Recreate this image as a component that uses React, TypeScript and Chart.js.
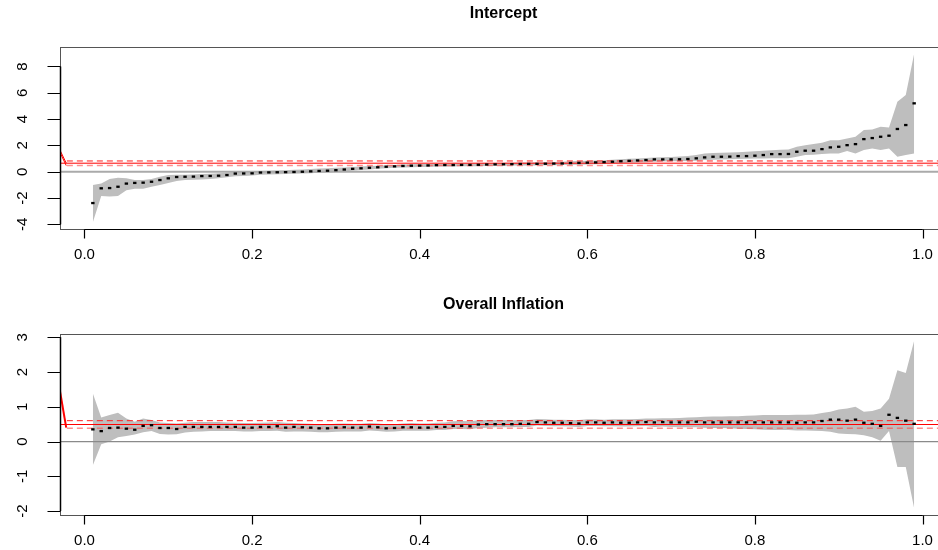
import React, { useEffect, useRef } from "react";
import { Chart, registerables } from "chart.js";

Chart.register(...registerables);

// ---------------- data ----------------
const taus = [
  0.01, 0.02, 0.03, 0.04, 0.05, 0.06, 0.07, 0.08, 0.09, 0.1,
  0.11, 0.12, 0.13, 0.14, 0.15, 0.16, 0.17, 0.18, 0.19, 0.2,
  0.21, 0.22, 0.23, 0.24, 0.25, 0.26, 0.27, 0.28, 0.29, 0.3,
  0.31, 0.32, 0.33, 0.34, 0.35, 0.36, 0.37, 0.38, 0.39, 0.4,
  0.41, 0.42, 0.43, 0.44, 0.45, 0.46, 0.47, 0.48, 0.49, 0.5,
  0.51, 0.52, 0.53, 0.54, 0.55, 0.56, 0.57, 0.58, 0.59, 0.6,
  0.61, 0.62, 0.63, 0.64, 0.65, 0.66, 0.67, 0.68, 0.69, 0.7,
  0.71, 0.72, 0.73, 0.74, 0.75, 0.76, 0.77, 0.78, 0.79, 0.8,
  0.81, 0.82, 0.83, 0.84, 0.85, 0.86, 0.87, 0.88, 0.89, 0.9,
  0.91, 0.92, 0.93, 0.94, 0.95, 0.96, 0.97, 0.98, 0.99,
];

const interceptEst = [
  -2.38, -1.26, -1.24, -1.14, -0.9, -0.85, -0.83, -0.76, -0.63, -0.5,
  -0.4, -0.38, -0.37, -0.33, -0.32, -0.3, -0.25, -0.14, -0.13, -0.12,
  -0.06, -0.05, -0.04, -0.03, -0.02, 0.0, 0.03, 0.06, 0.08, 0.12,
  0.17, 0.22, 0.26, 0.3, 0.34, 0.38, 0.41, 0.44, 0.46, 0.47,
  0.48, 0.5, 0.51, 0.51, 0.52, 0.52, 0.53, 0.55, 0.56, 0.57,
  0.58, 0.59, 0.6, 0.6, 0.61, 0.62, 0.63, 0.66, 0.67, 0.69,
  0.71, 0.73, 0.76, 0.8, 0.83, 0.86, 0.89, 0.94, 0.94, 0.94,
  0.95, 0.97, 1.02, 1.09, 1.14, 1.14, 1.15, 1.19, 1.19, 1.22,
  1.27, 1.34, 1.34, 1.35, 1.52, 1.6, 1.6, 1.72, 1.85, 1.9,
  2.02, 2.1, 2.48, 2.56, 2.66, 2.74, 3.25, 3.55, 5.2,
];
const interceptLo = [
  -3.84, -1.85, -1.88, -1.85, -1.4, -1.3, -1.3, -1.15, -1.0, -0.85,
  -0.7, -0.62, -0.6, -0.58, -0.55, -0.5, -0.42, -0.35, -0.32, -0.28,
  -0.22, -0.2, -0.19, -0.18, -0.16, -0.14, -0.11, -0.08, -0.05, -0.02,
  0.03, 0.08, 0.13, 0.18, 0.22, 0.26, 0.3, 0.33, 0.35, 0.36,
  0.37, 0.39, 0.4, 0.4, 0.41, 0.41, 0.42, 0.44, 0.45, 0.46,
  0.47, 0.48, 0.48, 0.48, 0.49, 0.5, 0.51, 0.53, 0.54, 0.56,
  0.57, 0.59, 0.62, 0.65, 0.68, 0.7, 0.73, 0.76, 0.78, 0.8,
  0.8, 0.82, 0.84, 0.89, 0.92, 0.94, 0.95, 0.97, 0.98, 1.0,
  1.01, 1.02, 1.02, 1.02, 1.14, 1.27, 1.3, 1.34, 1.39, 1.39,
  1.57, 1.39, 1.65, 1.77, 1.65, 1.77, 1.14, 1.27, 1.39,
];
const interceptHi = [
  -1.0, -0.9, -0.55, -0.45, -0.5, -0.62, -0.62, -0.55, -0.38, -0.25,
  -0.22, -0.22, -0.2, -0.18, -0.15, -0.12, -0.08, -0.02, 0.0, 0.02,
  0.06, 0.08, 0.1, 0.12, 0.15, 0.18, 0.21, 0.24, 0.27, 0.3,
  0.33, 0.36, 0.4, 0.43, 0.46, 0.49, 0.52, 0.55, 0.57, 0.58,
  0.59, 0.61, 0.62, 0.62, 0.63, 0.63, 0.64, 0.66, 0.67, 0.68,
  0.69, 0.7, 0.71, 0.72, 0.73, 0.74, 0.76, 0.79, 0.81, 0.83,
  0.85, 0.88, 0.91, 0.95, 0.98, 1.01, 1.05, 1.09, 1.1, 1.12,
  1.15, 1.2, 1.27, 1.39, 1.42, 1.45, 1.47, 1.49, 1.52, 1.56,
  1.6, 1.64, 1.68, 1.7, 1.9, 2.02, 2.1, 2.2, 2.4, 2.4,
  2.53, 2.66, 3.17, 3.22, 3.42, 3.37, 5.32, 5.83, 8.97,
];
// OLS estimate, lower, upper
const interceptOls = [0.65, 0.48, 0.82];

const inflationEst = [
  0.35, 0.3, 0.39, 0.4, 0.37, 0.34, 0.45, 0.47, 0.39, 0.39,
  0.36, 0.42, 0.42, 0.42, 0.42, 0.42, 0.42, 0.42, 0.4, 0.4,
  0.42, 0.42, 0.44, 0.4, 0.42, 0.41, 0.4, 0.38, 0.38, 0.4,
  0.41, 0.4, 0.4, 0.43, 0.41, 0.38, 0.39, 0.41, 0.41, 0.4,
  0.4, 0.42, 0.42, 0.45, 0.45, 0.44, 0.49, 0.5, 0.5, 0.5,
  0.5, 0.51, 0.51, 0.56, 0.55, 0.54, 0.54, 0.53, 0.52, 0.55,
  0.55, 0.54, 0.55, 0.54, 0.54, 0.55, 0.56, 0.55, 0.56, 0.55,
  0.55, 0.55, 0.57, 0.55, 0.55, 0.55, 0.55, 0.55, 0.55, 0.55,
  0.55, 0.55, 0.55, 0.55, 0.54, 0.55, 0.55, 0.59, 0.63, 0.63,
  0.6, 0.63, 0.54, 0.51, 0.45, 0.77, 0.68, 0.6, 0.51,
];
const inflationLo = [
  -0.68, -0.08, 0.0, 0.12, 0.16, 0.2, 0.27, 0.3, 0.22, 0.2,
  0.21, 0.26, 0.28, 0.29, 0.3, 0.3, 0.3, 0.3, 0.29, 0.29,
  0.3, 0.3, 0.31, 0.28, 0.29, 0.29, 0.28, 0.27, 0.27, 0.28,
  0.29, 0.29, 0.29, 0.32, 0.3, 0.28, 0.29, 0.31, 0.31, 0.31,
  0.31, 0.33, 0.33, 0.36, 0.36, 0.35, 0.39, 0.4, 0.41, 0.41,
  0.41, 0.42, 0.42, 0.46, 0.45, 0.44, 0.44, 0.43, 0.42, 0.45,
  0.45, 0.44, 0.44, 0.43, 0.43, 0.44, 0.45, 0.42, 0.43, 0.42,
  0.41, 0.41, 0.41, 0.4, 0.39, 0.39, 0.38, 0.37, 0.36, 0.35,
  0.34, 0.33, 0.33, 0.33, 0.32, 0.32, 0.31, 0.3, 0.28, 0.23,
  0.22, 0.21, 0.18, 0.12, 0.02, 0.3, -0.73, -0.73, -1.92,
];
const inflationHi = [
  1.38, 0.69, 0.76, 0.83, 0.66, 0.57, 0.66, 0.62, 0.55, 0.53,
  0.52, 0.54, 0.56, 0.56, 0.56, 0.56, 0.55, 0.54, 0.53, 0.53,
  0.54, 0.55, 0.56, 0.54, 0.53, 0.52, 0.51, 0.5, 0.5, 0.51,
  0.52, 0.51, 0.51, 0.53, 0.52, 0.5, 0.5, 0.52, 0.53, 0.52,
  0.52, 0.54, 0.55, 0.58, 0.59, 0.58, 0.61, 0.62, 0.62, 0.62,
  0.61, 0.62, 0.62, 0.65, 0.64, 0.63, 0.63, 0.62, 0.62, 0.64,
  0.64, 0.63, 0.64, 0.64, 0.64, 0.65, 0.66, 0.66, 0.67, 0.67,
  0.68, 0.69, 0.7, 0.71, 0.72, 0.72, 0.73, 0.73, 0.74, 0.75,
  0.76, 0.76, 0.76, 0.76, 0.77, 0.77, 0.78, 0.82, 0.86, 0.92,
  0.95, 1.0, 0.86, 0.88, 0.95, 1.23, 2.05, 1.97, 2.9,
];
const inflationOls = [0.49, 0.38, 0.6];

// left-edge red strokes (x pairs and y pairs)
const strokeX = [-0.0292, -0.0218];
const interceptStrokesY = [
  [1.64, 0.66],
  [1.47, 0.47],
];
const inflationStrokesY = [[1.45, 0.4]];
const dashStartX = -0.021;

const xTicks = [0, 0.2, 0.4, 0.6, 0.8, 1.0];
const xTickLabels = ["0.0", "0.2", "0.4", "0.6", "0.8", "1.0"];
const interceptYTicks = [-4, -2, 0, 2, 4, 6, 8];
const interceptYLabels = ["-4", "-2", "0", "2", "4", "6", "8"];
const inflationYTicks = [-2, -1, 0, 1, 2, 3];
const inflationYLabels = ["-2", "-1", "0", "1", "2", "3"];

const X_MIN = -0.0292;
const X_MAX = 1.0292;

// ---------------- chart building ----------------
const FONT = '"Liberation Sans", Arial, Helvetica, sans-serif';

type Panel = {
  title: string;
  est: number[];
  lo: number[];
  hi: number[];
  ols: number[];
  strokes: number[][];
  strokeWidth: number;
  yMin: number;
  yMax: number;
  yTicks: number[];
  yLabels: string[];
  padTop: number;
  padBottom: number;
  titleY: number;
  zeroColor: string;
  zeroWidth: number;
};

function pts(xs: number[], ys: number[]) {
  return xs.map((x, i) => ({ x, y: ys[i] }));
}

function makeChart(canvas: HTMLCanvasElement, p: Panel) {
  const datasets: any[] = [
    {
      data: pts(taus, p.hi),
      fill: "+1",
      backgroundColor: "#bebebe",
      borderColor: "rgba(0,0,0,0)",
      borderWidth: 0,
      pointRadius: 0,
      order: 10,
    },
    {
      data: pts(taus, p.lo),
      fill: false,
      borderColor: "rgba(0,0,0,0)",
      borderWidth: 0,
      pointRadius: 0,
      order: 10,
    },
    {
      data: pts([X_MIN, X_MAX], [0, 0]),
      borderColor: p.zeroColor,
      borderWidth: p.zeroWidth,
      pointRadius: 0,
      order: 9,
    },
    {
      data: pts([X_MIN, X_MAX], [p.ols[0], p.ols[0]]),
      borderColor: "#ff0000",
      borderWidth: 1,
      pointRadius: 0,
      order: 5,
    },
    {
      data: pts([dashStartX, X_MAX], [p.ols[2], p.ols[2]]),
      borderColor: "#ff2020",
      borderWidth: 1,
      borderDash: [6, 4],
      pointRadius: 0,
      order: 5,
    },
    {
      data: pts([dashStartX, X_MAX], [p.ols[1], p.ols[1]]),
      borderColor: "rgba(255,70,70,0.6)",
      borderWidth: 1.6,
      borderDash: [6, 4],
      pointRadius: 0,
      order: 5,
    },
  ];
  p.strokes.forEach((ys) => {
    datasets.push({
      data: pts(strokeX, ys),
      borderColor: "#ff0000",
      borderWidth: p.strokeWidth,
      pointRadius: 0,
      order: 4,
    });
  });
  datasets.push({
    data: pts(taus, p.est),
    showLine: false,
    pointStyle: "line",
    pointRadius: 1.7,
    pointBorderWidth: 2.3,
    pointBorderColor: "#000",
    pointBackgroundColor: "#000",
    pointHoverRadius: 0,
    order: 1,
  });

  const axesPlugin = {
    id: "rAxes",
    afterDraw(chart: any) {
      const { ctx, chartArea: a, scales } = chart;
      const xs = scales.x;
      const ys = scales.y;
      ctx.save();
      // box
      ctx.strokeStyle = "#555";
      ctx.lineWidth = 1;
      ctx.strokeRect(
        Math.round(a.left) + 0.5,
        Math.round(a.top) + 0.5,
        Math.round(a.right - a.left),
        Math.round(a.bottom - a.top)
      );
      // x axis
      const yb = Math.round(a.bottom) + 0.5;
      ctx.strokeStyle = "#000";
      ctx.lineWidth = 1.2;
      ctx.beginPath();
      ctx.moveTo(xs.getPixelForValue(xTicks[0]), yb);
      ctx.lineTo(xs.getPixelForValue(xTicks[xTicks.length - 1]), yb);
      xTicks.forEach((t) => {
        const px = Math.round(xs.getPixelForValue(t)) + 0.5;
        ctx.moveTo(px, yb);
        ctx.lineTo(px, yb + 9);
      });
      ctx.stroke();
      ctx.fillStyle = "#000";
      ctx.font = `15px ${FONT}`;
      ctx.textAlign = "center";
      ctx.textBaseline = "middle";
      xTicks.forEach((t, i) => {
        ctx.fillText(xTickLabels[i], xs.getPixelForValue(t), a.bottom + 26);
      });
      // y axis
      const xl = Math.round(a.left) + 0.5;
      ctx.beginPath();
      ctx.lineWidth = 1.5;
      ctx.moveTo(xl, ys.getPixelForValue(p.yTicks[0]));
      ctx.lineTo(xl, ys.getPixelForValue(p.yTicks[p.yTicks.length - 1]));
      ctx.stroke();
      ctx.beginPath();
      ctx.lineWidth = 1.2;
      p.yTicks.forEach((t) => {
        const py = Math.round(ys.getPixelForValue(t)) + 0.5;
        ctx.moveTo(xl, py);
        ctx.lineTo(xl - 13, py);
      });
      ctx.stroke();
      p.yTicks.forEach((t, i) => {
        ctx.save();
        ctx.translate(a.left - 37, ys.getPixelForValue(t));
        ctx.rotate(-Math.PI / 2);
        ctx.fillText(p.yLabels[i], 0, 0);
        ctx.restore();
      });
      // title
      ctx.font = `bold 16px ${FONT}`;
      ctx.fillText(p.title, (a.left + a.right) / 2, p.titleY);
      ctx.restore();
    },
  };

  return new Chart(canvas, {
    type: "line",
    data: { datasets },
    options: {
      responsive: false,
      animation: false,
      devicePixelRatio: 1,
      layout: {
        padding: { left: 60, right: 13, top: p.padTop, bottom: p.padBottom },
      },
      elements: { line: { tension: 0 } },
      scales: {
        x: { type: "linear", min: X_MIN, max: X_MAX, display: false },
        y: { type: "linear", min: p.yMin, max: p.yMax, display: false },
      },
      plugins: {
        legend: { display: false },
        tooltip: { enabled: false },
        title: { display: false },
      },
      events: [],
    },
    plugins: [axesPlugin],
  } as any);
}

export default function App() {
  const topRef = useRef<HTMLCanvasElement>(null);
  const botRef = useRef<HTMLCanvasElement>(null);

  useEffect(() => {
    const top = makeChart(topRef.current!, {
      title: "Intercept",
      est: interceptEst,
      lo: interceptLo,
      hi: interceptHi,
      ols: interceptOls,
      strokes: interceptStrokesY,
      strokeWidth: 1,
      yMin: -4.352,
      yMax: 9.482,
      yTicks: interceptYTicks,
      yLabels: interceptYLabels,
      padTop: 47,
      padBottom: 46,
      titleY: 14,
      zeroColor: "#aaaaaa",
      zeroWidth: 2,
    });
    const bot = makeChart(botRef.current!, {
      title: "Overall Inflation",
      est: inflationEst,
      lo: inflationLo,
      hi: inflationHi,
      ols: inflationOls,
      strokes: inflationStrokesY,
      strokeWidth: 2,
      yMin: -2.113,
      yMax: 3.093,
      yTicks: inflationYTicks,
      yLabels: inflationYLabels,
      padTop: 59,
      padBottom: 35,
      titleY: 30,
      zeroColor: "#8a8a8a",
      zeroWidth: 1.2,
    });
    return () => {
      top.destroy();
      bot.destroy();
    };
  }, []);

  return (
    <div
      style={{
        position: "absolute",
        left: 0,
        top: 0,
        width: 938,
        height: 550,
        overflow: "hidden",
        background: "#fff",
      }}
    >
      <canvas
        ref={topRef}
        width={960}
        height={275}
        style={{ display: "block", width: 960, height: 275 }}
      />
      <canvas
        ref={botRef}
        width={960}
        height={275}
        style={{ display: "block", width: 960, height: 275 }}
      />
    </div>
  );
}
